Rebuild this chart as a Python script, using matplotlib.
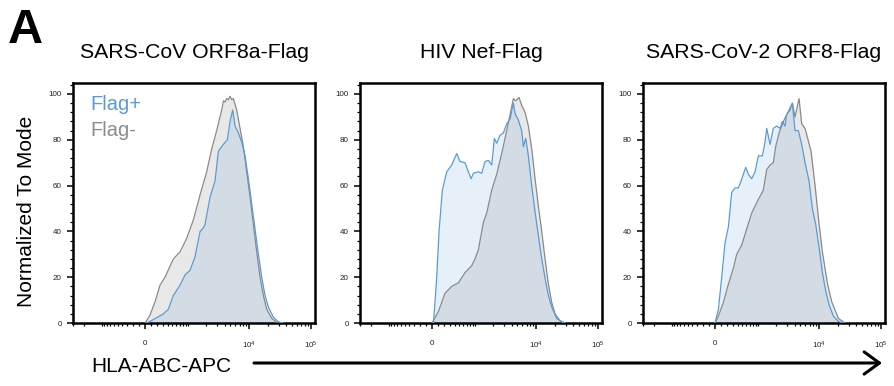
import numpy as np
import matplotlib
matplotlib.use("Agg")
import matplotlib.pyplot as plt
from matplotlib.patches import FancyArrowPatch
from matplotlib.ticker import FixedLocator, NullFormatter, FixedFormatter

plt.rcParams['font.family'] = ['Liberation Sans', 'DejaVu Sans']
plt.rcParams['mathtext.fontset'] = 'custom'
plt.rcParams['mathtext.rm'] = 'Liberation Sans'
plt.rcParams['mathtext.it'] = 'Liberation Sans:italic'
plt.rcParams['mathtext.bf'] = 'Liberation Sans:bold'

titles = ["SARS-CoV ORF8a-Flag", "HIV Nef-Flag", "SARS-CoV-2 ORF8-Flag"]
legend_labels = ["Flag+", "Flag-"]
x_label = "HLA-ABC-APC"
y_label = "Normalized To Mode"

# ---- data: fluorescence intensity (HLA-ABC-APC) vs normalized-to-mode ----
orf8a_neg_x = [0, 78, 159, 246, 340, 526, 710, 938, 1225, 1590, 2045, 2474, 2985, 3601, 3835, 4100,
               4340, 4600, 4915, 5250, 5570, 6305, 7140, 8085, 9150, 10360, 11730, 13280, 15040,
               17010, 19260, 23200, 27930]
orf8a_neg_y = [0, 3.5, 9.3, 16.6, 20, 28, 31, 37, 45, 56, 66, 76, 84, 93, 97, 96.5,
               98, 97.5, 99, 97.5, 98, 93, 85, 77, 66, 55, 43, 31, 20,
               12, 6, 2, 0.3]
orf8a_pos_x = [26, 132, 308, 409, 526, 710, 877, 1075, 1309, 1590, 1800, 1921, 2325, 2804, 3178,
               3835, 4450, 4915, 5430, 5927, 6710, 7600, 8603, 9740, 11024, 12482, 14133, 15989,
               18100, 20482, 24680, 29720, 35800]
orf8a_pos_y = [0, 1.5, 4, 6, 12, 16.5, 21, 23, 29, 40, 41.5, 43, 55, 62, 75,
               78, 80, 88, 93, 86, 83, 79, 73, 63, 52, 41, 30, 20,
               12, 7, 2.5, 0.5, 0]

nef_neg_x = [0, 99, 210, 334, 477, 651, 865, 990, 1133, 1380, 1570, 1898, 2295, 2770, 3340, 3790,
             4290, 4680, 5300, 5855, 6630, 7510, 8500, 9620, 10890, 12330, 13960, 15790, 17880,
             20240, 24370, 29360]
nef_neg_y = [0, 5, 13, 16, 17.5, 22, 25, 28, 32, 44, 48, 58, 65, 74, 84, 91,
             98, 97, 98.5, 95, 92, 86, 76, 63, 51, 40, 28, 17, 9,
             4, 1, 0]
nef_pos_x = [21, 36, 73, 110, 164, 240, 334, 439, 518, 652, 752, 844, 928, 1133, 1292, 1471, 1668,
             1902, 2098, 2295, 2608, 2951, 3344, 3787, 4289, 4565, 5162, 5848, 6228, 6793, 7503,
             8485, 9614, 10868, 12331, 13961, 15800, 17890, 21527, 25916, 29344]
nef_pos_y = [0, 5, 20, 40, 58, 66, 69, 74, 70.5, 70, 66, 63, 65.4, 66, 65.4, 70.5, 71,
             69, 80.6, 78.5, 82, 83, 87, 89, 96, 91.5, 88.6, 84, 77, 80.6, 73,
             60, 48.6, 38.4, 28, 19.5, 12, 7, 2, 0.5, 0]

sars2_neg_x = [0, 52, 132, 216, 308, 374, 485, 613, 763, 1005, 1225, 1395, 1590, 1800, 1970, 2240,
               2635, 2985, 3385, 3690, 4080, 4740, 5233, 5927, 7420, 8603, 9740, 11300, 13800,
               15989, 20482, 26250]
sars2_neg_y = [0, 3, 9, 17, 24, 30, 34, 41, 48, 54, 58, 67, 69, 70, 77, 83,
               88, 91, 93, 96, 90, 98, 87, 85, 75, 60, 46, 31, 16.6,
               9.3, 2, 0]
sars2_pos_x = [0, 52, 105, 159, 216, 276, 340, 409, 470, 587, 661, 763, 877, 1005, 1180, 1309, 1395,
               1590, 1800, 2045, 2325, 2535, 2804, 2985, 3260, 3690, 4080, 4619, 5233, 5927, 6880,
               7790, 8820, 9990, 11300, 12780, 14480, 17010, 20482, 24680]
sars2_pos_y = [0, 6, 20, 35, 42, 57, 59, 59, 62, 68, 65, 63, 66, 73, 73, 79, 85,
               78, 85, 86, 85, 88, 86, 91, 93, 96, 84, 84, 78, 70, 62,
               50, 43, 33, 22, 14, 8, 3, 0.7, 0]

panels = [
    (orf8a_pos_x, orf8a_pos_y, orf8a_neg_x, orf8a_neg_y),
    (nef_pos_x, nef_pos_y, nef_neg_x, nef_neg_y),
    (sars2_pos_x, sars2_pos_y, sars2_neg_x, sars2_neg_y),
]

x_major = [0, 1e4, 1e5]
x_major_labels = ["0", r"$10^4$", r"$10^5$"]
x_minor = ([-3000, -2000, -1000] + list(range(-900, 0, 100)) + list(range(100, 1000, 100)) +
           list(range(1000, 10000, 1000)) + list(range(20000, 100000, 10000)))
y_major = [0, 20, 40, 60, 80, 100]

C = 418.0
def fwd(x):
    return np.arcsinh(np.asarray(x, dtype=float) / C)
def inv(u):
    return C * np.sinh(np.asarray(u, dtype=float))

BLUE = "#5b9bd5"
GRAY_LINE = "#8a8a8a"
GRAY_FILL = "#e8e8e8"

W, H = 894, 386
fig = plt.figure(figsize=(W / 100, H / 100), dpi=100)

lefts = [73, 360, 643]
ax_w, ax_top, ax_bot = 242, 83, 323

for i, (px, py, nx, ny) in enumerate(panels):
    ax = fig.add_axes([lefts[i] / W, 1 - ax_bot / H, ax_w / W, (ax_bot - ax_top) / H])
    ax.set_xscale('function', functions=(fwd, inv))
    ax.fill_between(nx, ny, 0, color=GRAY_FILL, lw=0, zorder=1)
    ax.fill_between(px, py, 0, color=BLUE, alpha=0.15, lw=0, zorder=2)
    ax.plot(nx, ny, color=GRAY_LINE, lw=0.9, zorder=3)
    ax.plot(px, py, color=BLUE, lw=0.9, zorder=4)
    ax.set_xlim(-3030, 116000)
    ax.set_ylim(0, 104.8)
    ax.xaxis.set_major_locator(FixedLocator(x_major))
    ax.xaxis.set_major_formatter(FixedFormatter(x_major_labels))
    ax.xaxis.set_minor_locator(FixedLocator(x_minor))
    ax.xaxis.set_minor_formatter(NullFormatter())
    ax.yaxis.set_major_locator(FixedLocator(y_major))
    ax.yaxis.set_minor_locator(FixedLocator([v for v in range(0, 105, 4) if v % 20 != 0]))
    ax.tick_params(axis='both', which='major', direction='out', length=4, width=1.1,
                   labelsize=5.8, labelcolor='#222222')
    ax.tick_params(axis='both', which='minor', direction='out', length=2.2, width=0.9)
    ax.tick_params(axis='x', which='major', pad=8)
    ax.tick_params(axis='y', which='major', pad=4)
    for s in ax.spines.values():
        s.set_linewidth(1.8)
    ax.set_title(titles[i], fontsize=15.3, pad=18)
    if i == 0:
        ax.text(0.07, 0.91, legend_labels[0], color=BLUE, fontsize=14.5,
                transform=ax.transAxes, va='center', ha='left')
        ax.text(0.07, 0.80, legend_labels[1], color="#8c8c8c", fontsize=14.5,
                transform=ax.transAxes, va='center', ha='left')

fig.text(8 / W, 1 - 43 / H, "A", fontsize=35, fontweight='bold', ha='left', va='baseline')
fig.text(27 / W, 1 - 211 / H, y_label, rotation=90, fontsize=15, ha='center', va='center')
fig.text(91 / W, 1 - 366 / H, x_label, fontsize=15, ha='left', va='center')
arrow = FancyArrowPatch(posA=(254 / W, 1 - 363 / H), posB=(882 / W, 1 - 363 / H),
                        transform=fig.transFigure, arrowstyle='->,head_length=0.55,head_width=0.4',
                        mutation_scale=20, lw=2.2, color='black', shrinkA=0, shrinkB=0)
fig.add_artist(arrow)

fig.savefig("out.png", dpi=100)
